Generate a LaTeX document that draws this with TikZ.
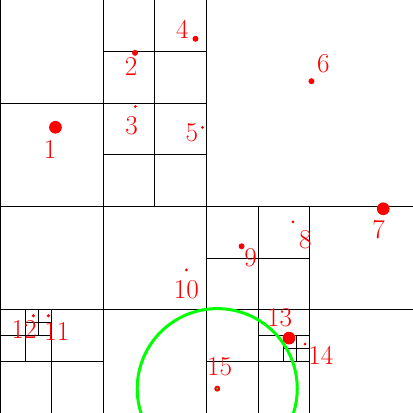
\documentclass[tikz,border=0pt]{standalone}
\begin{document}
\begin{tikzpicture}[x=0.5cm, y=0.5cm, line width=0.55pt,
  nokta/.style={circle, fill=red, inner sep=0pt},
  etiket/.style={text=red, font=\fontsize{15}{18}\selectfont, inner sep=0pt}]
  \useasboundingbox (0,0) rectangle (16,16);
  \def\R{3.1}  % sorgu yaricapi

  % ---- kok hucre ve ilk bolme ----
  \draw (0,0) rectangle (16,16);
  \draw (8,0) -- (8,16);
  \draw (0,8) -- (16,8);

  % ---- sol ust ceyrek ----
  \draw (4,8) -- (4,16);
  \draw (0,12) -- (8,12);
  \draw (6,12) -- (6,16);
  \draw (4,14) -- (8,14);
  \draw (6,8) -- (6,12);
  \draw (4,10) -- (8,10);

  % ---- sol alt ceyrek ----
  \draw (4,0) -- (4,8);
  \draw (0,4) -- (8,4);
  \draw (2,0) -- (2,4);
  \draw (0,2) -- (4,2);
  \draw (1,2) -- (1,4);
  \draw (0,3) -- (2,3);
  \draw (1.5,3) -- (1.5,4);
  \draw (1,3.5) -- (2,3.5);

  % ---- sag alt ceyrek ----
  \draw (12,0) -- (12,8);
  \draw (8,4) -- (16,4);
  \draw (10,4) -- (10,8);
  \draw (8,6) -- (12,6);
  \draw (10,0) -- (10,4);
  \draw (8,2) -- (12,2);
  \draw (10,3) -- (12,3);
  \draw (11,2) -- (11,3);
  \draw (11.5,2) -- (11.5,3);
  \draw (11,2.5) -- (12,2.5);

  % ---- noktalar ----
  \node[nokta, minimum size=7pt]   (p1)  at (2.148,11.068) {};
  \node[nokta, minimum size=3.3pt] (p2)  at (5.231,13.953) {};
  \node[nokta, minimum size=1.7pt] (p3)  at (5.243,11.872) {};
  \node[nokta, minimum size=3.3pt] (p4)  at (7.573,14.497) {};
  \node[nokta, minimum size=1.7pt] (p5)  at (7.845,11.068) {};
  \node[nokta, minimum size=3.3pt] (p6)  at (12.066,12.854) {};
  \node[nokta, minimum size=7pt]   (p7)  at (14.847,7.911) {};
  \node[nokta, minimum size=1.7pt] (p8)  at (11.351,7.406) {};
  \node[nokta, minimum size=3.3pt] (p9)  at (9.359,6.458) {};
  \node[nokta, minimum size=1.7pt] (p10) at (7.223,5.542) {};
  \node[nokta, minimum size=1.9pt] (p11) at (1.876,3.767) {};
  \node[nokta, minimum size=1.9pt] (p12) at (1.293,3.767) {};
  \node[nokta, minimum size=7pt]   (p13) at (11.196,2.901) {};
  \node[nokta, minimum size=1.7pt] (p14) at (11.817,2.668) {};
  \node[nokta, minimum size=3.3pt] (p15) at (8.416,0.944) {};

  % ---- sorgu cemberi ----
  \begin{scope}
    \clip (0,0) rectangle (16,16);
    \draw[green, line width=1.65pt] (p15.center) circle (\R);
  \end{scope}
  \fill[green] (p15.center) circle (0.55pt);

  % ---- etiketler ----
  \node[etiket] (l1)  at (1.942,10.214) {1};
  \node[etiket] (l2)  at (5.076,13.437) {2};
  \node[etiket] (l3)  at (5.099,11.146) {3};
  \node[etiket] (l4)  at (7.068,14.874) {4};
  \node[etiket] (l5)  at (7.429,10.862) {5};
  \node[etiket] (l6)  at (12.532,13.515) {6};
  \node[etiket] (l7)  at (14.668,7.107) {7};
  \node[etiket] (l8)  at (11.833,6.730) {8};
  \node[etiket] (l9)  at (9.709,6.008) {9};
  \node[etiket] (l10) at (7.223,4.765) {10};
  \node[etiket] (l11) at (2.202,3.157) {11};
  \node[etiket] (l12) at (0.932,3.250) {12};
  \node[etiket] (l13) at (10.835,3.701) {13};
  \node[etiket] (l14) at (12.427,2.214) {14};
  \node[etiket] (l15) at (8.505,1.798) {15};
\end{tikzpicture}
\end{document}
